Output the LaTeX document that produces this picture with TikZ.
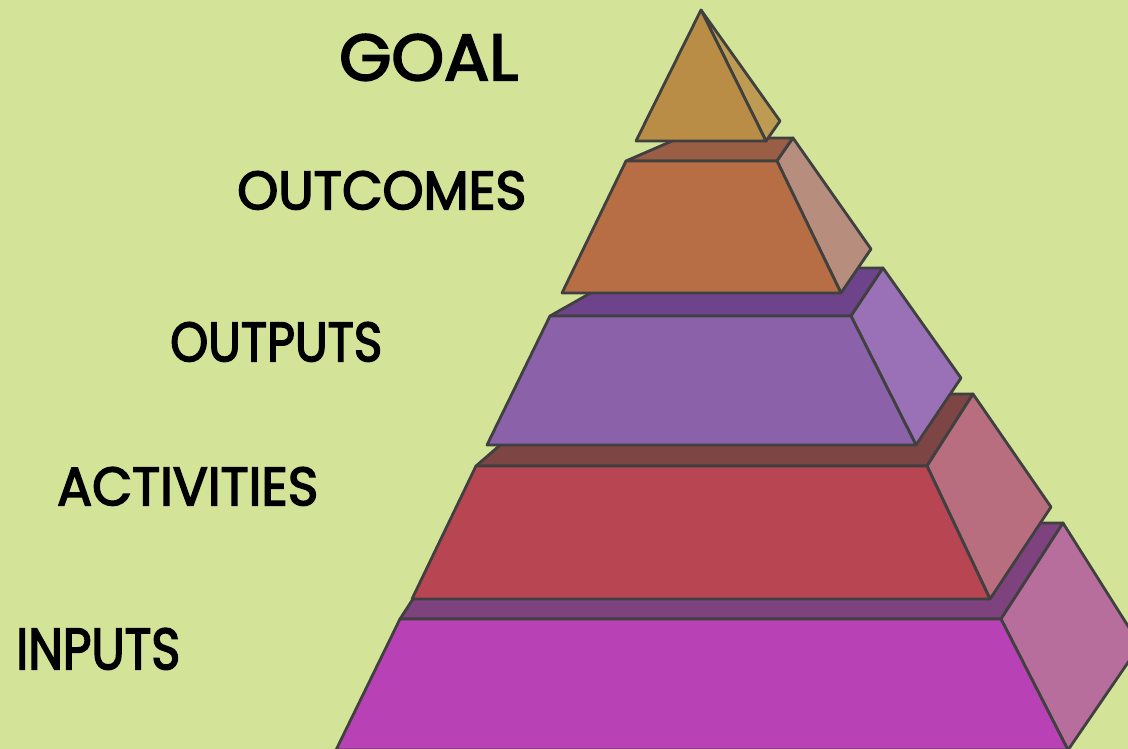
\documentclass[tikz,border=0pt]{standalone}
\usepackage{fontspec}
\setmainfont{Poppins}
\newfontfamily\labfont{Poppins}[FakeBold=3]
\usepackage{graphicx}
\definecolor{bg}{HTML}{D3E499}
\definecolor{edge}{HTML}{404040}
\definecolor{goalF}{HTML}{B98D45}
\definecolor{goalS}{HTML}{BE9B52}
\definecolor{ocF}{HTML}{B86E45}
\definecolor{ocT}{HTML}{9A5E45}
\definecolor{ocS}{HTML}{B78D7E}
\definecolor{opF}{HTML}{8B62AA}
\definecolor{opT}{HTML}{6D448C}
\definecolor{opS}{HTML}{9A70B7}
\definecolor{acF}{HTML}{B84552}
\definecolor{acT}{HTML}{7E4545}
\definecolor{acS}{HTML}{B86E7E}
\definecolor{inF}{HTML}{B842B5}
\definecolor{inT}{HTML}{7E437E}
\definecolor{inS}{HTML}{B86E9C}
\tikzset{face/.style={draw=edge, line width=2.8pt, line join=round},
  lab/.style={anchor=north west, inner sep=0pt, font=\labfont}}
\begin{document}
\begin{tikzpicture}[x=1pt,y=-1pt]
\useasboundingbox (0,0) rectangle (1128,749);
\fill[bg] (0,0) rectangle (1128,749);
\begin{scope}
\clip (0,0) rectangle (1128,749);
% INPUTS
\filldraw[face, fill=inT] (400,619) -- (462,523) -- (1063,523) -- (1001,619) -- cycle;
\filldraw[face, fill=inS] (1001,619) -- (1063,523) -- (1140,645) -- (1068,750) -- cycle;
\filldraw[face, fill=inF] (400,619) -- (1001,619) -- (1068,750) -- (336,750) -- cycle;
% ACTIVITIES
\filldraw[face, fill=acT] (476,466) -- (559,394) -- (973,394) -- (927,466) -- cycle;
\filldraw[face, fill=acS] (927,466) -- (973,394) -- (1051,507) -- (990,599) -- cycle;
\filldraw[face, fill=acF] (476,466) -- (927,466) -- (990,599) -- (412,599) -- cycle;
% OUTPUTS
\filldraw[face, fill=opT] (550,316) -- (635,268) -- (883,268) -- (851,316) -- cycle;
\filldraw[face, fill=opS] (851,316) -- (883,268) -- (961,378) -- (916,445) -- cycle;
\filldraw[face, fill=opF] (550,316) -- (851,316) -- (916,445) -- (487,445) -- cycle;
% OUTCOMES
\filldraw[face, fill=ocT] (626,161) -- (679,138) -- (793,138) -- (777,161) -- cycle;
\filldraw[face, fill=ocS] (777,161) -- (793,138) -- (871,249) -- (841,293) -- cycle;
\filldraw[face, fill=ocF] (626,161) -- (777,161) -- (841,293) -- (562,293) -- cycle;
% GOAL
\filldraw[face, fill=goalS] (701,10) -- (780,121) -- (766,141) -- cycle;
\filldraw[face, fill=goalF] (701,10) -- (766,141) -- (636,141) -- cycle;
\end{scope}
\node[lab] (goal) at (339,34) {\resizebox{179pt}{46pt}{GOAL}};
\node[lab] (outcomes) at (237,171) {\resizebox{289pt}{38pt}{OUTCOMES}};
\node[lab] (outputs) at (170,322) {\resizebox{212pt}{39pt}{OUTPUTS}};
\node[lab] (activities) at (57,467) {\resizebox{261pt}{38pt}{ACTIVITIES}};
\node[lab] (inputs) at (16,628) {\resizebox{164pt}{41pt}{INPUTS}};
\end{tikzpicture}
\end{document}
